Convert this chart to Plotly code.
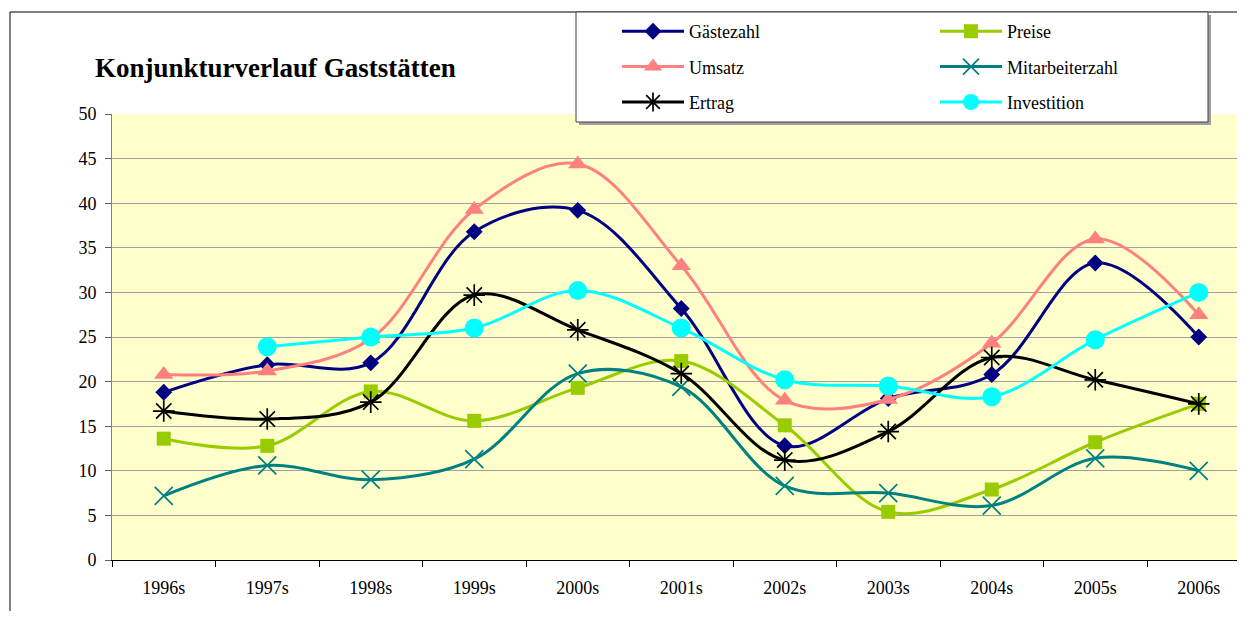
import plotly.graph_objects as go

# ---------------- data ----------------
years = ["1996s", "1997s", "1998s", "1999s", "2000s", "2001s",
         "2002s", "2003s", "2004s", "2005s", "2006s"]
gaestezahl = [18.8, 21.9, 22.1, 36.8, 39.2, 28.2, 12.8, 18.1, 20.8, 33.3, 25.0]
preise = [13.6, 12.8, 18.9, 15.6, 19.3, 22.3, 15.1, 5.4, 7.9, 13.2, 17.5]
umsatz = [20.8, 21.2, 24.8, 39.3, 44.4, 33.0, 17.9, 18.0, 24.3, 36.0, 27.5]
mitarbeiterzahl = [7.2, 10.6, 9.0, 11.3, 20.9, 19.4, 8.3, 7.5, 6.1, 11.4, 10.0]
ertrag = [16.7, 15.8, 17.7, 29.7, 25.8, 20.9, 11.2, 14.4, 22.7, 20.2, 17.5]
investition = [None, 23.9, 25.0, 26.0, 30.2, 26.0, 20.2, 19.5, 18.3, 24.7, 30.0]

title_text = "Konjunkturverlauf Gaststätten"
y_ticks = [0, 5, 10, 15, 20, 25, 30, 35, 40, 45, 50]

FONT = "Liberation Serif"

series = [
    # name, values, color, symbol, size, legend, marker line width
    ("Gästezahl", gaestezahl, "#000080", "diamond", 13, "legend", None),
    ("Preise", preise, "#99CC00", "square", 14, "legend2", None),
    ("Umsatz", umsatz, "#FF8080", "triangle-up", 17, "legend", None),
    ("Mitarbeiterzahl", mitarbeiterzahl, "#008080", "x-thin-open", 18, "legend2", 1.7),
    ("Ertrag", ertrag, "#000000", "asterisk-open", 18, "legend", 1.7),
    ("Investition", investition, "#00FFFF", "circle", 19, "legend2", None),
]

fig = go.Figure()
for name, vals, color, sym, size, leg, mlw in series:
    marker = dict(symbol=sym, size=size, color=color)
    if mlw is not None:
        marker["line"] = dict(color=color, width=mlw)
    else:
        marker["line"] = dict(width=0)
    fig.add_trace(go.Scatter(
        x=years, y=vals, name=name, mode="lines+markers",
        line=dict(color=color, width=3, shape="spline", smoothing=1.0),
        marker=marker, connectgaps=False,
        legend=leg, legendgroup=name,
    ))

# page body has an 8px margin: figure coordinates = page coordinates - OFF
OFF = 8
W, H = 1245 - 2 * OFF, 619 - 2 * OFF
L = 112 - OFF            # plot left (page x 112)
T = 114 - OFF            # y = 50 (page y 114)
PB = 560 - OFF           # y = 0 (page y 560)
B = H - PB
plot_w = W - L
plot_h = PB - T
cat_px = 103.5
x_max = -0.5 + plot_w / cat_px


def px(xpage):
    return (xpage - OFF - L) / plot_w


def py(ypage):
    return (PB - (ypage - OFF)) / plot_h


legend_common = dict(
    bgcolor="rgba(0,0,0,0)", borderwidth=0,
    font=dict(family=FONT, size=18, color="#000000"),
    orientation="v", xanchor="left", yanchor="top",
    itemwidth=62, tracegroupgap=9, traceorder="grouped",
)

fig.update_layout(
    width=W, height=H,
    margin=dict(l=L, r=0, t=T, b=B),
    paper_bgcolor="#FFFFFF",
    plot_bgcolor="#FFFFCC",
    font=dict(family=FONT, size=18, color="#000000"),
    showlegend=True,
    legend=dict(x=px(617), y=py(13), **legend_common),
    legend2=dict(x=px(935), y=py(13), **legend_common),
    xaxis=dict(
        type="category", range=[-0.5, x_max],
        showgrid=False, showline=True, linecolor="#000000", linewidth=1,
        ticks="outside", tickson="boundaries", ticklen=6, tickcolor="#000000",
        tickfont=dict(family=FONT, size=18, color="#000000"),
        ticklabelstandoff=11,
    ),
    yaxis=dict(
        range=[0, 50], tickvals=y_ticks,
        showgrid=True, gridcolor="#A0A0A0", gridwidth=1,
        showline=True, linecolor="#808080", linewidth=1,
        ticks="outside", ticklen=6, tickcolor="#606060",
        tickfont=dict(family=FONT, size=18, color="#000000"),
        ticklabelstandoff=5, zeroline=False,
    ),
    shapes=[
        # outer chart border
        dict(type="rect", xref="paper", yref="paper",
             x0=px(10), x1=px(1300), y0=py(700), y1=py(12),
             line=dict(color="#000000", width=1), fillcolor="rgba(0,0,0,0)",
             layer="above"),
        # legend shadow
        dict(type="rect", xref="paper", yref="paper",
             x0=px(579), x1=px(1211), y0=py(125), y1=py(15),
             line=dict(width=0), fillcolor="#A0A0A0", layer="above"),
        # legend box
        dict(type="rect", xref="paper", yref="paper",
             x0=px(576), x1=px(1208), y0=py(122), y1=py(12),
             line=dict(color="#404040", width=1), fillcolor="#FFFFFF",
             layer="above"),
    ],
    annotations=[
        dict(text="<b>" + title_text + "</b>", xref="paper", yref="paper",
             x=px(93), y=py(68), xanchor="left", yanchor="middle",
             showarrow=False,
             font=dict(family=FONT, size=27, color="#000000")),
    ],
)

fig.write_html("out.html")
